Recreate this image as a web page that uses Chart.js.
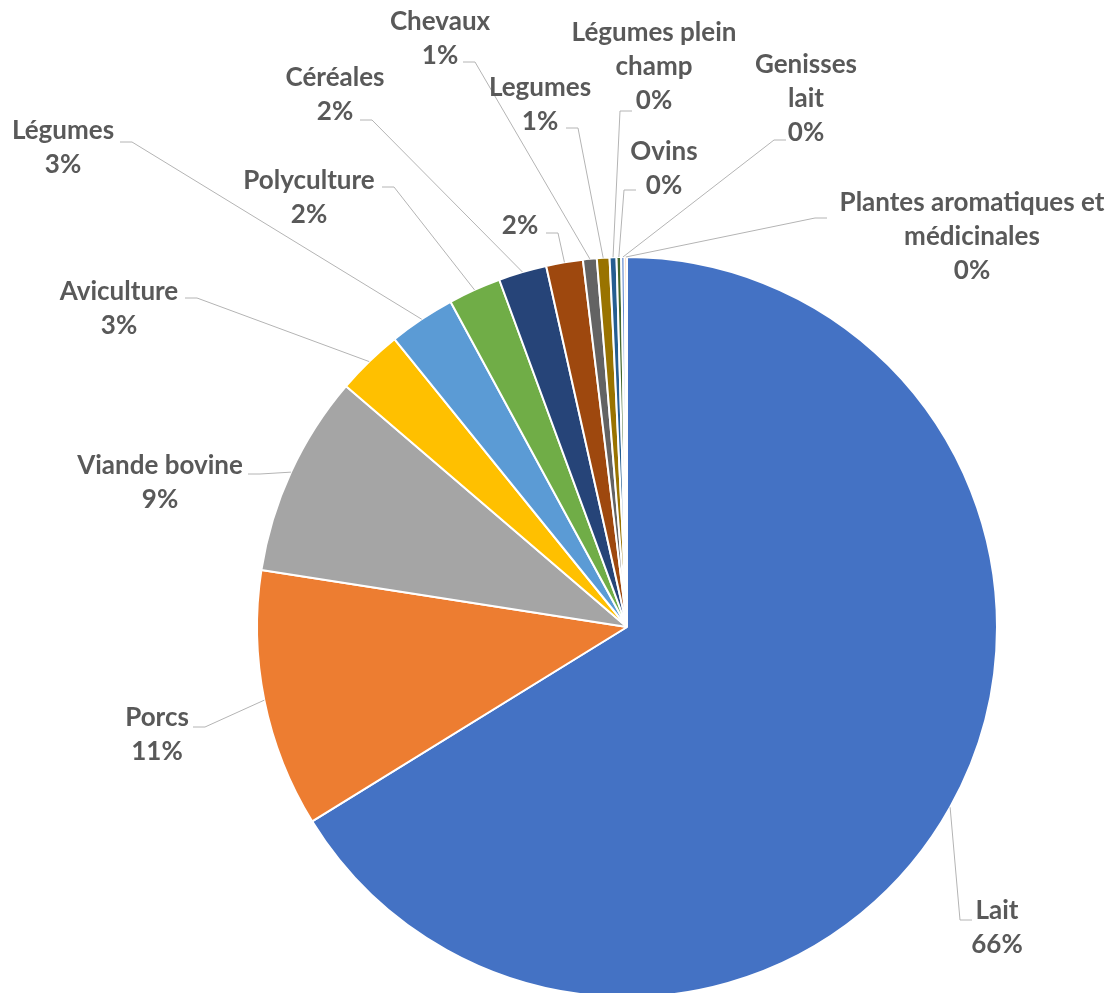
<!DOCTYPE html>
<html>
<head>
<meta charset="utf-8">
<script src="https://cdn.jsdelivr.net/npm/chart.js@4.4.1/dist/chart.umd.min.js"></script>
<style>
  html, body { margin: 0; padding: 0; background: #fff; }
  #wrap { width: 1112px; height: 993px; }
</style>
</head>
<body>
<div id="wrap"><canvas id="pieChart"></canvas></div>
<script>
// categories in drawing order (clockwise from 12 o'clock)
const categories = [
  'Lait', 'Porcs', 'Viande bovine', 'Aviculture', 'Légumes', 'Polyculture', 'Céréales', '',
  'Chevaux', 'Legumes', ['Légumes plein', 'champ'], 'Ovins', ['Genisses', 'lait'],
  ['Plantes aromatiques et', 'médicinales']
];
// share of each category
const shares = [66.1, 11.25, 8.8, 2.9, 2.9, 2.3, 2.1, 1.6, 0.6, 0.55, 0.3, 0.2, 0.15, 0.1];
const sliceColors = [
  '#4472C4', '#ED7D31', '#A5A5A5', '#FFC000', '#5B9BD5', '#70AD47', '#264478',
  '#9E480E', '#636363', '#997300', '#255E91', '#43682B', '#698ED0', '#F1975A'
];

// label placement, relative to the pie centre: [text dx, text dy, hook dx, hook dy]
const labelSpots = [
  [370, 284, 345, 293],
  [-470, 91, -434, 100],
  [-467, -161, -379, -153],
  [-508, -335, -442, -329],
  [-564, -496, -507, -485],
  [-318, -446, -245, -440],
  [-292, -549, -267, -507],
  [-107, -401, -81, -394],
  [-187, -605, -164, -565],
  [-87, -539, -61, -499],
  [27, -594, 5, -516],
  [37, -475, 9, -437],
  [179, -562, 159, -487],
  [345, -424, 200, -409]
];

const calloutPlugin = {
  id: 'callouts',
  afterDatasetsDraw(chart) {
    const ctx = chart.ctx;
    const meta = chart.getDatasetMeta(0);
    const data = chart.data.datasets[0].data;
    const total = data.reduce((a, b) => a + b, 0);
    ctx.save();
    meta.data.forEach((arc, i) => {
      const { x, y, startAngle, endAngle, outerRadius } =
        arc.getProps(['x', 'y', 'startAngle', 'endAngle', 'outerRadius'], true);
      const mid = (startAngle + endAngle) / 2;
      const ex = x + Math.cos(mid) * outerRadius;
      const ey = y + Math.sin(mid) * outerRadius;
      const spot = labelSpots[i];
      const hx = x + spot[2], hy = y + spot[3];
      const bx = hx + (ex < hx ? -12 : 12);

      // leader line
      ctx.strokeStyle = '#b4b4b4';
      ctx.lineWidth = 1;
      ctx.beginPath();
      ctx.moveTo(hx, hy);
      ctx.lineTo(bx, hy);
      ctx.lineTo(ex, ey);
      ctx.stroke();

      // name + percentage
      const name = chart.data.labels[i];
      const lines = (Array.isArray(name) ? name : [name]).filter(s => s);
      lines.push(Math.round(data[i] / total * 100) + '%');
      ctx.fillStyle = '#595959';
      ctx.font = 'bold 26px Lato';
      ctx.textAlign = 'center';
      ctx.textBaseline = 'middle';
      lines.forEach((t, k) => ctx.fillText(t, x + spot[0], y + spot[1] + k * 34));
    });
    ctx.restore();
  }
};

new Chart(document.getElementById('pieChart'), {
  type: 'pie',
  data: {
    labels: categories,
    datasets: [{
      data: shares,
      backgroundColor: sliceColors,
      borderColor: '#ffffff',
      borderWidth: 2,
      clip: false
    }]
  },
  options: {
    responsive: true,
    maintainAspectRatio: false,
    animation: false,
    radius: 370,
    layout: { padding: { left: 142, top: 261, right: 0, bottom: 0 } },
    plugins: {
      legend: { display: false },
      tooltip: { enabled: false }
    }
  },
  plugins: [calloutPlugin]
});
</script>
</body>
</html>
